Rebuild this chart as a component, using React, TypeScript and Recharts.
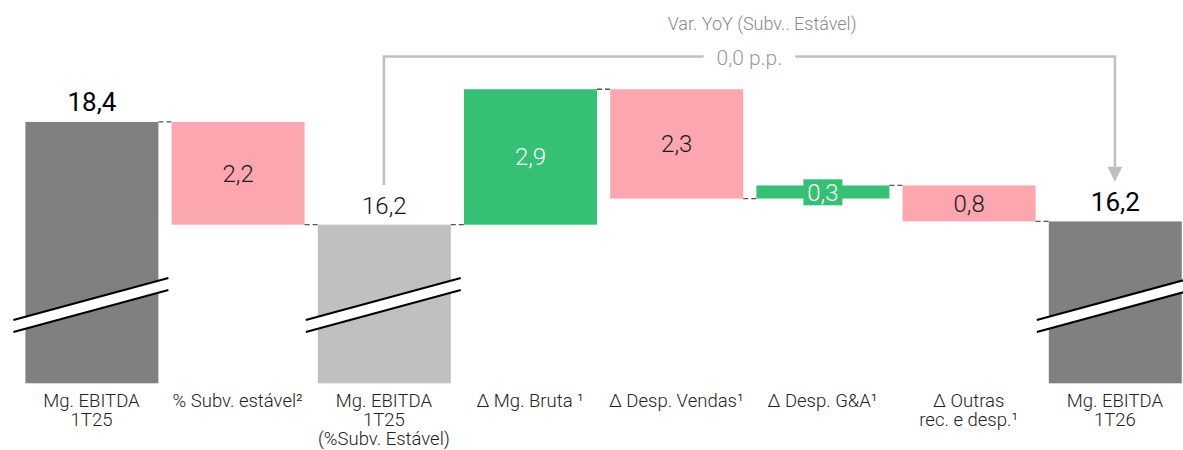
import React from 'react';
import { BarChart, Bar, XAxis, YAxis, ReferenceLine } from 'recharts';

// ---------- data ----------
const categories = [
  'Mg. EBITDA\n1T25',
  '% Subv. estável²',
  'Mg. EBITDA\n1T25\n(%Subv. Estável)',
  'Δ Mg. Bruta ¹',
  'Δ Desp. Vendas¹',
  'Δ Desp. G&A¹',
  'Δ Outras\nrec. e desp.¹',
  'Mg. EBITDA\n1T26',
];
const kinds = ['total', 'down', 'subtotal', 'up', 'down', 'up', 'down', 'total'];
const values = [18.4, 2.2, 16.2, 2.9, 2.34, 0.28, 0.77, 16.27];
const valueLabels = ['18,4', '2,2', '16,2', '2,9', '2,3', '0,3', '0,8', '16,2'];

const yoyTitle = 'Var. YoY (Subv.. Estável)';
const yoyLabel = '0,0 p.p.';
const yoyLegStart = 17.05;
const yoyTop = 19.8;
const yoyArrowTip = 17.12;

const Y_MIN = 12.804;
const Y_MAX = 21.011;

// ---------- styling ----------
const FONT = 'Roboto, "Noto Sans", sans-serif';
const COLORS: Record<string, string> = {
  total: '#808080',
  subtotal: '#c0c0c0',
  up: '#34c173',
  down: '#fca6b0',
};
const CHART_W = 1188;
const MARGIN_LEFT = 18.4;
const BAR_SIZE = 133;
const BAND = (CHART_W - MARGIN_LEFT) / categories.length;
const GAP = BAND - BAR_SIZE;

let level = 0;
const data = categories.map((name, i) => {
  const kind = kinds[i];
  const v = values[i];
  let low: number;
  let high: number;
  if (kind === 'total' || kind === 'subtotal') {
    low = Y_MIN;
    high = v;
    level = v;
  } else if (kind === 'up') {
    low = level;
    high = level + v;
    level = high;
  } else {
    low = level - v;
    high = level;
    level = low;
  }
  return { name, range: [low, high], kind, label: valueLabels[i], idx: i };
});

function WaterfallShape(props: any) {
  const { x, y, width, height, payload } = props;
  const kind: string = payload.kind;
  const idx: number = payload.idx;
  const fill = COLORS[kind];
  const isTotal = kind === 'total' || kind === 'subtotal';
  const bottom = y + height;
  const cx = x + width / 2;
  const cy = y + height / 2;
  const last = idx === categories.length - 1;
  const lineY = kind === 'down' ? y + height : y;

  return (
    <g>
      <rect x={x} y={y} width={width} height={height} fill={fill} />
      {isTotal && (
        <g>
          <polygon
            points={`${x - 12},${bottom - 63.3} ${x + width + 10},${bottom - 105.3} ${x + width + 10},${bottom - 93.3} ${x - 12},${bottom - 51.3}`}
            fill="#ffffff"
          />
          <line x1={x - 12} y1={bottom - 63.3} x2={x + width + 10} y2={bottom - 105.3} stroke="#000" strokeWidth={2} />
          <line x1={x - 12} y1={bottom - 51.3} x2={x + width + 10} y2={bottom - 93.3} stroke="#000" strokeWidth={2} />
        </g>
      )}
      {!last && (
        <line
          x1={x + width}
          y1={lineY}
          x2={x + width + GAP}
          y2={lineY}
          stroke="#555"
          strokeWidth={1.3}
          strokeDasharray="5 3"
        />
      )}
      {isTotal ? (
        <text
          x={cx}
          y={y - 10.5}
          textAnchor="middle"
          fontFamily={FONT}
          fontSize={kind === 'total' ? 26 : 24}
          fontWeight={kind === 'total' ? 400 : 300}
          fill={kind === 'total' ? '#000' : '#111'}
        >
          {payload.label}
        </text>
      ) : (
        <g>
          {height < 24 && (
            <rect x={cx - 19.5} y={cy - 12.7} width={39} height={26} fill={fill} />
          )}
          <text
            x={cx}
            y={cy + 8.5}
            textAnchor="middle"
            fontFamily={FONT}
            fontSize={24}
            fontWeight={300}
            fill={kind === 'up' ? '#ffffff' : '#1a1a1a'}
          >
            {payload.label}
          </text>
        </g>
      )}
    </g>
  );
}

function CategoryTick(props: any) {
  const { x, y, payload } = props;
  const lines = String(payload.value).split('\n');
  return (
    <text x={x} y={y} textAnchor="middle" fontFamily={FONT} fontSize={18.5} fontWeight={300} fill="#222">
      {lines.map((l, i) => (
        <tspan key={i} x={x} dy={i === 0 ? 15.5 : 19}>
          {l}
        </tspan>
      ))}
    </text>
  );
}

const BRACKET = '#c0c0c0';

function TopBracket(props: any) {
  const { x1, y1, x2 } = props;
  const mid = (x1 + x2) / 2;
  return (
    <g>
      <line x1={x1} y1={y1} x2={mid - 47} y2={y1} stroke={BRACKET} strokeWidth={2.5} strokeLinecap="square" />
      <line x1={mid + 47} y1={y1} x2={x2} y2={y1} stroke={BRACKET} strokeWidth={2.5} strokeLinecap="square" />
      <text x={mid} y={y1 + 8} textAnchor="middle" fontFamily={FONT} fontSize={21} fontWeight={300} fill="#999">
        {yoyLabel}
      </text>
      <text x={mid + 12.7} y={y1 - 26.5} textAnchor="middle" fontFamily={FONT} fontSize={18} fontWeight={300} fill="#8a8a8a">
        {yoyTitle}
      </text>
    </g>
  );
}

function ArrowLeg(props: any) {
  const { x1, y1, y2 } = props;
  return (
    <g>
      <line x1={x1} y1={y1} x2={x1} y2={y2 - 14} stroke={BRACKET} strokeWidth={2.5} />
      <polygon points={`${x1 - 7.5},${y2 - 15} ${x1 + 7.5},${y2 - 15} ${x1},${y2}`} fill={BRACKET} />
    </g>
  );
}

export default function App() {
  return (
    <div
      style={{
        position: 'absolute',
        left: 0,
        top: 0,
        width: 1183,
        height: 450,
        overflow: 'hidden',
        background: '#fff',
      }}
    >
      <BarChart
        width={CHART_W}
        height={450}
        data={data}
        margin={{ top: 0, right: 0, left: MARGIN_LEFT, bottom: 0 }}
      >
        <XAxis
          dataKey="name"
          height={66.7}
          axisLine={false}
          tickLine={false}
          interval={0}
          tick={<CategoryTick />}
        />
        <YAxis hide domain={[Y_MIN, Y_MAX]} />
        <Bar dataKey="range" barSize={BAR_SIZE} isAnimationActive={false} shape={<WaterfallShape />} />
        <ReferenceLine
          segment={[
            { x: categories[2], y: yoyLegStart },
            { x: categories[2], y: yoyTop },
          ]}
          stroke={BRACKET}
          strokeWidth={2.5}
        />
        <ReferenceLine
          segment={[
            { x: categories[2], y: yoyTop },
            { x: categories[7], y: yoyTop },
          ]}
          shape={<TopBracket />}
        />
        <ReferenceLine
          segment={[
            { x: categories[7], y: yoyTop },
            { x: categories[7], y: yoyArrowTip },
          ]}
          shape={<ArrowLeg />}
        />
      </BarChart>
    </div>
  );
}
